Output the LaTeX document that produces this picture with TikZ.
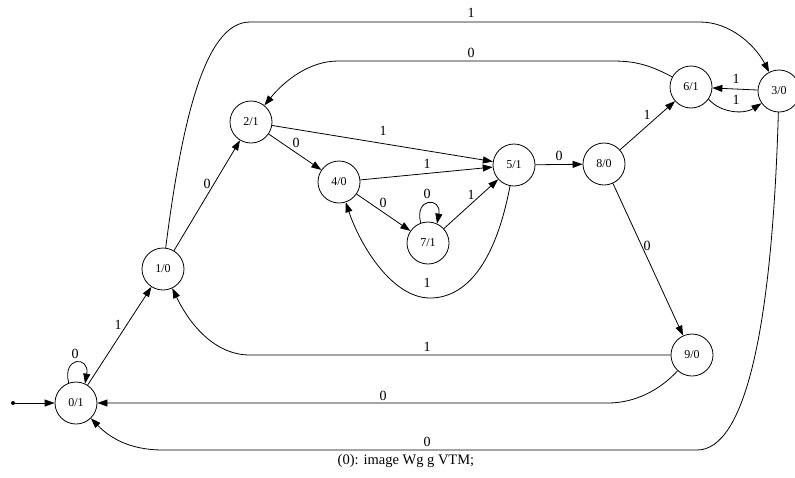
\documentclass[tikz,border=0pt]{standalone}
\usepackage{fontspec}
\setmainfont{Liberation Serif}
\usetikzlibrary{arrows.meta}
\begin{document}
\begin{tikzpicture}[x=1pt,y=-1pt,
  state/.style={draw,circle,minimum size=42pt,inner sep=0pt,line width=0.8pt,font=\fontsize{12}{12}\selectfont},
  edge/.style={draw,line width=0.8pt,-{Triangle[length=10pt,width=7pt]}},
  lbl/.style={inner sep=0pt,font=\fontsize{14}{14}\selectfont}]
\useasboundingbox (0,0) rectangle (795,477);
\node[state] (n0) at (76,403) {0/1};
\node[state] (n1) at (163,269) {1/0};
\node[state] (n2) at (251,122) {2/1};
\node[state] (n4) at (339,182) {4/0};
\node[state] (n7) at (428,243) {7/1};
\node[state] (n5) at (514,165) {5/1};
\node[state] (n8) at (604,164) {8/0};
\node[state] (n6) at (691,87) {6/1};
\node[state] (n3) at (779,91) {3/0};
\node[state] (n9) at (692,355) {9/0};
\fill (13,403) circle (2pt) coordinate (start);
\draw[edge] (start) -- (n0);
\draw[edge] (n0.110) .. controls (62,356) and (90,356) .. (n0.65) node[lbl] at (75,354) {0};
\draw[edge] (n0) -- (n1) node[lbl] at (118,325) {1};
\draw[edge] (n1) -- (n2) node[lbl] at (207,184) {0};
\draw[edge] (n1) .. controls (182,120) and (205,22) .. (250,22) -- (700,22) .. controls (730,22) and (755,45) .. (n3) node[lbl] at (471,13) {1};
\draw[edge] (n6) .. controls (650,65) and (635,61) .. (613,61) -- (338,61) .. controls (310,61) and (285,80) .. (n2) node[lbl] at (471,53) {0};
\draw[edge] (n2) -- (n5) node[lbl] at (383,131) {1};
\draw[edge] (n2) -- (n4) node[lbl] at (296,143) {0};
\draw[edge] (n4) -- (n5) node[lbl] at (427,164) {1};
\draw[edge] (n4) -- (n7) node[lbl] at (383,203) {0};
\draw[edge] (n7.110) .. controls (414,197) and (442,197) .. (n7.65) node[lbl] at (427,194) {0};
\draw[edge] (n7) -- (n5) node[lbl] at (471,195) {1};
\draw[edge] (n5) .. controls (495,265) and (465,298) .. (430,298) .. controls (392,298) and (360,245) .. (n4) node[lbl] at (427,283) {1};
\draw[edge] (n5) -- (n8) node[lbl] at (559,156) {0};
\draw[edge] (n8) -- (n6) node[lbl] at (647,115) {1};
\draw[edge] (n8) -- (n9) node[lbl] at (647,246) {0};
\draw[edge] (n3) -- (n6) node[lbl] at (736,79) {1};
\draw[edge] (n6.-35) .. controls (722,114) and (745,114) .. (n3.-145) node[lbl] at (736,100) {1};
\draw[edge] (n9) -- (250,355) .. controls (215,355) and (190,325) .. (n1) node[lbl] at (427,347) {1};
\draw[edge] (n9) .. controls (660,390) and (635,403) .. (608,403) -- (n0) node[lbl] at (383,396) {0};
\draw[edge] (n3) .. controls (772,330) and (745,450) .. (697,450) -- (163,450) .. controls (130,450) and (110,438) .. (n0) node[lbl] at (427,442) {0};
\node[font=\fontsize{14.5}{15}\selectfont,inner sep=0pt] (cap) at (406,461) {(0): image Wg g VTM;};
\end{tikzpicture}
\end{document}
